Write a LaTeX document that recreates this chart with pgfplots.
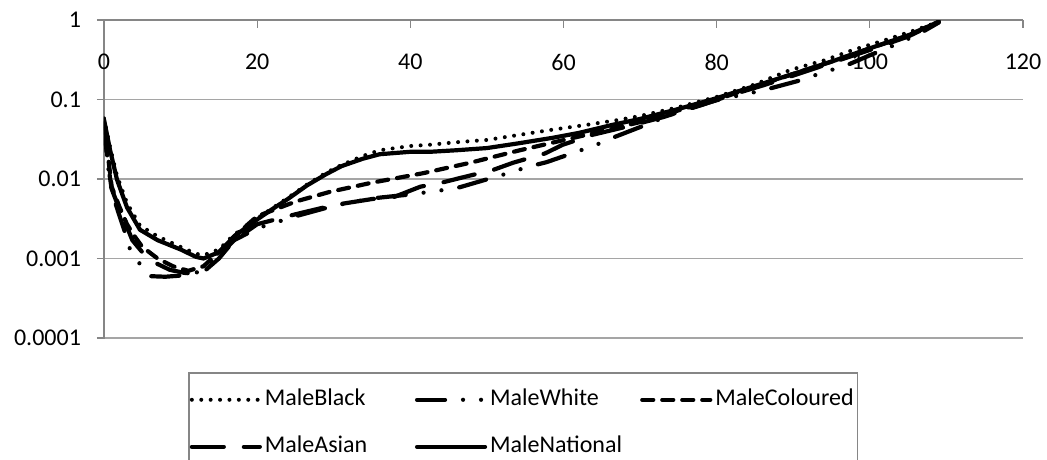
\documentclass[border=0pt]{standalone}
\usepackage{fontspec}
\setmainfont{Carlito}
\usepackage{pgfplots}
\pgfplotsset{compat=1.18}
\definecolor{axgray}{RGB}{134,134,134}
\definecolor{grgray}{RGB}{165,165,165}
\begin{document}
\begin{tikzpicture}
\begin{axis}[name=ax, scale only axis, width=459.5pt, height=159pt,
  ymode=log, xmin=0, xmax=120, ymin=1e-4, ymax=1,
  axis x line*=top, axis y line*=left,
  axis line style={axgray, line width=0.6pt},
  xtick={0,20,...,120},
  ytick={1e-4,1e-3,1e-2,1e-1,1}, yticklabels={0.0001,0.001,0.01,0.1,1},
  yminorticks=false,
  ymajorgrids, grid style={grgray, line width=0.6pt},
  tick align=inside, major tick length=4pt,
  tick style={axgray, line width=0.6pt},
  ytick style={xshift=-3.5pt},
  /pgf/number format/assume math mode=true,
  tick label style={font=\fontsize{12}{14}\selectfont},
  xticklabel style={anchor=center, yshift=-21pt},
  yticklabel style={xshift=-8pt},
  legend columns=3, legend cell align=left,
  legend style={at={(0,0)}, anchor=north west, xshift=42pt, yshift=-17pt,
    draw=axgray, line width=0.75pt, inner xsep=0.5pt, inner ysep=6pt,
    font=\fontsize{12}{14}\selectfont,
    nodes={inner sep=1.5pt, text height=9pt, text depth=3pt},
    row sep=8.5pt, column sep=0pt},
  legend image code/.code={\draw[#1] (0pt,0pt) -- (34pt,0pt);},
  every axis plot/.append style={black, line width=2.1pt, line cap=round, line join=round},
]
% MaleBlack
\addplot[line width=2pt, dash pattern=on 0pt off 4.7pt] coordinates {
(0,0.058) (0.8,0.025) (1.7,0.011) (3,0.005) (4.7,0.0026) (7,0.0019) (10,0.0014) (12,0.00115) (13,0.0011) (15,0.0013) (17,0.002) (20,0.0032) (22,0.0043) (24,0.0058) (26.5,0.0085) (29,0.012) (31,0.015) (33.8,0.0195) (36,0.023) (40,0.026) (42.6,0.027) (46,0.029) (50,0.031) (54.3,0.036) (58,0.041) (63,0.048) (67,0.055) (70,0.062) (75,0.08) (80,0.108) (85,0.155) (89.6,0.235) (94,0.31) (97.8,0.42) (102,0.56) (106,0.75) (109,0.95)};
\addlegendentry{\makebox[73.5pt][l]{MaleBlack}}
% MaleWhite
\addplot[dash pattern=on 14pt off 9pt on 0pt off 9pt on 0pt off 9pt] coordinates {
(0,0.05) (0.5,0.015) (1,0.007) (2,0.0035) (2.7,0.0022) (3.4,0.0013) (4.5,0.0009) (6,0.0006) (8,0.00059) (10,0.00061) (12,0.00066) (13,0.00075) (15,0.0011) (17,0.0017) (20,0.0024) (25,0.0034) (30,0.0046) (35,0.0057) (40,0.0064) (44,0.0072) (46.5,0.0079) (50.6,0.0103) (53,0.012) (55.3,0.0142) (57.8,0.0163) (61.7,0.022) (64.3,0.027) (66.4,0.033) (70,0.045) (75,0.07) (80,0.098) (86,0.13) (90.5,0.17) (94,0.22) (97,0.27) (100,0.36) (104,0.52) (107,0.72) (109,0.93)};
\addlegendentry{\makebox[73.5pt][l]{MaleWhite}}
% MaleColoured
\addplot[dash pattern=on 5.5pt off 4.5pt] coordinates {
(0,0.052) (1,0.008) (2,0.0045) (3,0.0027) (4,0.0019) (5,0.0014) (7,0.001) (9,0.0008) (11,0.0007) (13,0.0008) (15,0.0012) (17,0.0019) (20,0.0034) (21.3,0.0038) (25,0.0052) (29.5,0.0069) (35,0.009) (41.6,0.0118) (47.8,0.016) (54.3,0.023) (63,0.036) (70,0.052) (75,0.073) (80,0.1) (85,0.145) (90,0.21) (95,0.3) (100,0.44) (105,0.64) (109,0.95)};
\addlegendentry{MaleColoured}
% MaleAsian
\addplot[dash pattern=on 16pt off 10pt] coordinates {
(0,0.05) (0.5,0.016) (1,0.0075) (2,0.0042) (3,0.0025) (3.7,0.0017) (5,0.0012) (6.5,0.0009) (8.6,0.00072) (10.5,0.00066) (12,0.00064) (13,0.00068) (15,0.001) (17,0.0017) (20,0.0027) (25,0.0036) (30,0.0047) (35,0.0056) (38,0.006) (41.3,0.008) (44.3,0.0091) (46.5,0.0103) (50.8,0.013) (53.4,0.016) (57.6,0.021) (59.9,0.027) (63.8,0.036) (68,0.045) (73,0.06) (78,0.085) (82,0.115) (86,0.15) (90,0.2) (95,0.29) (100,0.42) (105,0.62) (109,0.95)};
\addlegendentry{\makebox[73.5pt][l]{MaleAsian}}
% MaleNational
\addplot[solid] coordinates {
(0,0.056) (0.8,0.023) (1.7,0.0098) (3,0.0044) (4.7,0.0023) (7,0.0017) (10,0.0013) (12,0.00105) (13,0.001) (15,0.0012) (17,0.0019) (20,0.0031) (22,0.0042) (24,0.0056) (26.5,0.0083) (29,0.0115) (31,0.0145) (33.8,0.018) (36,0.0205) (40,0.022) (42.6,0.022) (46,0.023) (50,0.0245) (54,0.028) (58.6,0.033) (62,0.038) (66.4,0.048) (70,0.057) (75,0.076) (80,0.104) (85,0.148) (90,0.21) (95,0.3) (100,0.44) (105,0.64) (109,0.95)};
\addlegendentry{MaleNational}
\end{axis}
\pgfresetboundingbox
\useasboundingbox ([xshift=-52pt,yshift=-60.5pt]ax.south west) rectangle ([xshift=12pt,yshift=10pt]ax.north east);
\end{tikzpicture}
\end{document}
